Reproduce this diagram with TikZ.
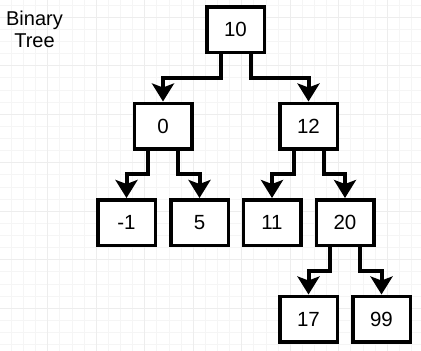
\documentclass[tikz,border=0pt]{standalone}
\usepackage{fontspec}
\setmainfont{Liberation Sans}
\usetikzlibrary{arrows.meta,calc}
\tikzset{
  tnode/.style={draw=black, line width=3.5pt, fill=white, minimum width=57.5pt, minimum height=45.5pt, inner sep=0pt, font=\fontsize{20.5}{24}\selectfont},
  conn/.style={line width=4pt, -{Stealth[length=18pt,width=22pt,inset=4pt]}, line join=miter},
  minorgrid/.style={line width=0.5pt, color=black!4},
  majorgrid/.style={line width=0.8pt, color=black!7}
}
\begin{document}
\begin{tikzpicture}[x=1pt,y=-1pt]
\useasboundingbox (0,0) rectangle (421,351);
\fill[white] (0,0) rectangle (421,351);
% grid
\foreach \i in {0,...,35} {
  \draw[minorgrid] ({11.125+12.125*\i},0) -- ({11.125+12.125*\i},351);
}
\foreach \i in {0,...,29} {
  \draw[minorgrid] (0,{4.875+12.125*\i}) -- (421,{4.875+12.125*\i});
}
\foreach \i in {0,...,8} {
  \draw[majorgrid] ({-1+48.5*\i},0) -- ({-1+48.5*\i},351);
}
\foreach \i in {0,...,7} {
  \draw[majorgrid] (0,{17+48.5*\i}) -- (421,{17+48.5*\i});
}
% title
\node[align=center, font=\fontsize{20}{22}\selectfont] (title) at (34.5,29) {Binary\\Tree};
% nodes
\node[tnode] (n10) at (235.5,29.5) {10};
\node[tnode] (n0) at (163,126) {0};
\node[tnode] (n12) at (308.5,126) {12};
\node[tnode] (nm1) at (126.5,222.5) {-1};
\node[tnode] (n5) at (199.5,222.5) {5};
\node[tnode] (n11) at (272,222.5) {11};
\node[tnode] (n20) at (345,222.5) {20};
\node[tnode] (n17) at (308.5,319) {17};
\node[tnode] (n99) at (381.5,319) {99};
% connectors
\draw[conn] ([xshift=-15pt]n10.south) -- ++(0,23.5) -| (n0.north);
\draw[conn] ([xshift=15pt]n10.south) -- ++(0,23.5) -| (n12.north);
\draw[conn] ([xshift=-15pt]n0.south) -- ++(0,23.5) -| (nm1.north);
\draw[conn] ([xshift=15pt]n0.south) -- ++(0,23.5) -| (n5.north);
\draw[conn] ([xshift=-15pt]n12.south) -- ++(0,23.5) -| (n11.north);
\draw[conn] ([xshift=15pt]n12.south) -- ++(0,23.5) -| (n20.north);
\draw[conn] ([xshift=-15pt]n20.south) -- ++(0,23.5) -| (n17.north);
\draw[conn] ([xshift=15pt]n20.south) -- ++(0,23.5) -| (n99.north);
\end{tikzpicture}
\end{document}
